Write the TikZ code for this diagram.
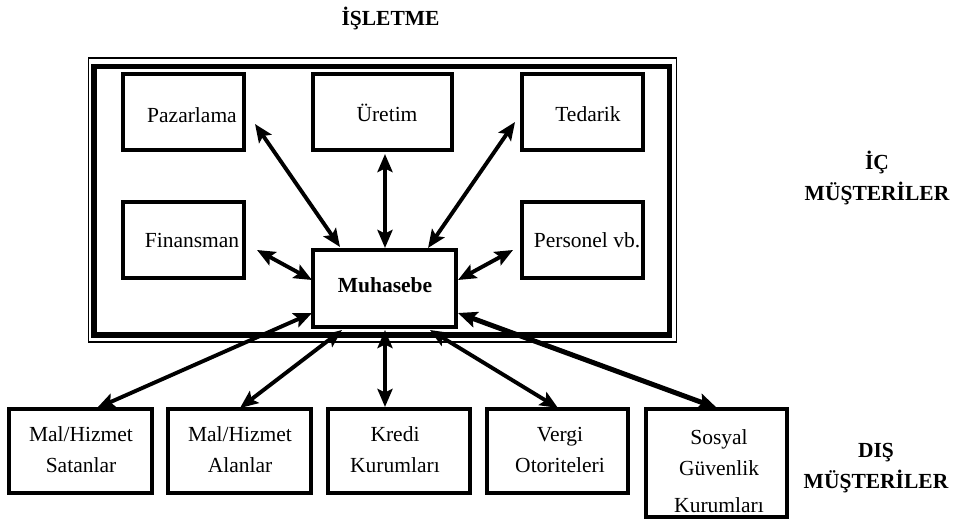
\documentclass[tikz,border=0pt]{standalone}
\usepackage{fontspec}
\setmainfont{Liberation Serif}
\usetikzlibrary{arrows.meta}
\begin{document}
\begin{tikzpicture}[x=1pt,y=-1pt,
  every node/.style={font=\fontsize{21.5pt}{31pt}\selectfont},
  box/.style={draw,line width=3.3pt,inner sep=0pt,outer sep=0pt},
  mbox/.style={draw,line width=4.6pt,inner sep=0pt,outer sep=0pt},
  lbl/.style={inner sep=0pt,outer sep=0pt,anchor=base,align=center},
  hd/.style={inner sep=0pt,outer sep=0pt,anchor=base,align=center,font=\fontsize{21.5pt}{31pt}\selectfont\bfseries},
  link/.style={line width=3.9pt,{Stealth[length=18pt,width=15pt,inset=3.5pt]}-{Stealth[length=18pt,width=15pt,inset=3.5pt]}},
  linkb/.style={line width=5pt,{Stealth[length=19pt,width=16pt,inset=3.5pt]}-{Stealth[length=19pt,width=16pt,inset=3.5pt]}}
]
\useasboundingbox (0,0) rectangle (958,522);
% frame
\draw[line width=1.5pt] (88.5,58) rectangle (676.5,342);
\draw[line width=5.5pt] (94,66.5) rectangle (669.5,335);
% inner boxes
\node[box,minimum width=121pt,minimum height=76pt] (paz) at (183.5,112) {};
\node[box,minimum width=139pt,minimum height=76pt] (ure) at (382.5,112) {};
\node[box,minimum width=121pt,minimum height=76pt] (ted) at (582.5,112) {};
\node[box,minimum width=121pt,minimum height=76pt] (fin) at (183.5,240) {};
\node[box,minimum width=121pt,minimum height=76pt] (per) at (582.5,240) {};
\node[mbox,minimum width=143pt,minimum height=77pt] (muh) at (384.5,288.5) {};
% outer boxes
\node[box,minimum width=143pt,minimum height=84pt] (sat) at (80.5,451) {};
\node[box,minimum width=143pt,minimum height=84pt] (ala) at (239.5,451) {};
\node[box,minimum width=142pt,minimum height=84pt] (kre) at (399,451) {};
\node[box,minimum width=141pt,minimum height=84pt] (ver) at (557.5,451) {};
\node[box,minimum width=141pt,minimum height=108pt] (sos) at (716.5,463) {};
% texts (anchor=base is the baseline of the last line)
\node[lbl] (pazt) at (192,122) {Pazarlama};
\node[lbl] (uret) at (387,121) {Üretim};
\node[lbl] (tedt) at (588,121) {Tedarik};
\node[lbl] (fint) at (192,247) {Finansman};
\node[lbl] (pert) at (587,247) {Personel vb.};
\node[hd] (muht) at (385,292) {Muhasebe};
\node[lbl] (satt) at (81,472) {Mal/Hizmet\\Satanlar};
\node[lbl] (alat) at (240,472) {Mal/Hizmet\\Alanlar};
\node[lbl] (kret) at (395,472) {Kredi\\Kurumları};
\node[lbl] (vert) at (560,472) {Vergi\\Otoriteleri};
\node[lbl] (sost) at (719,512) {Sosyal\\Güvenlik\\[6pt]Kurumları};
\node[hd] (title) at (390.5,25) {İŞLETME};
\node[hd] (ic) at (877,200) {İÇ\\MÜŞTERİLER};
\node[hd] (dis) at (876,488) {DIŞ\\MÜŞTERİLER};
% connectors
\draw[link] ([shift={(11,12)}]paz.east) -- ([shift={(27,-3)}]muh.north west);
\draw[link] ([shift={(2.5,4)}]ure.south) -- ([shift={(0.5,-2)}]muh.north);
\draw[link] ([shift={(-7,10)}]ted.west) -- ([shift={(-28,-2)}]muh.north east);
\draw[link] ([shift={(13,10)}]fin.east) -- ([shift={(-1,-8.5)}]muh.west);
\draw[link] ([shift={(-9,10)}]per.west) -- ([shift={(2,-8.5)}]muh.east);
\draw[link] ([shift={(-1,24.5)}]muh.west) -- ([shift={(16.5,-1)}]sat.north);
\draw[link] ([shift={(29,3)}]muh.south west) -- ([shift={(0.5,-1)}]ala.north);
\draw[link] ([shift={(0.5,3)}]muh.south) -- ([shift={(-14,-2)}]kre.north);
\draw[link] ([shift={(-26,3)}]muh.south east) -- ([shift={(0.5,-1)}]ver.north);
\draw[linkb] ([shift={(2,24.5)}]muh.east) -- ([shift={(0.5,-1)}]sos.north);
\end{tikzpicture}
\end{document}
